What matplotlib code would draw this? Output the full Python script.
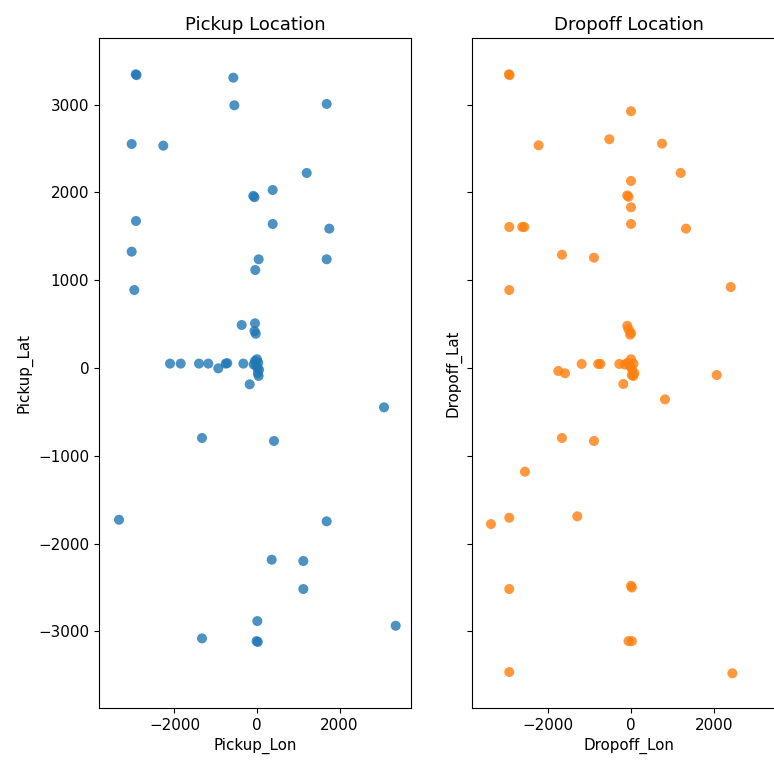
import matplotlib
matplotlib.use("Agg")
import matplotlib.pyplot as plt

# Pickup points
pickup_lon = [-2940, -2920, -574, -549, 1689, -3038, -2271, 1205, 380, -90, -60,
              -2933, 380, 1753, -3038, 41, 1689, -41, -2974, -371, -48, -60, -30,
              -2109, -1850, -1406, -1180, -938, -760, -720, -331,
              -80, -50, 0, 30, -20, 10, 50, 20, 40, -177,
              3079, -1333, 412, -3345, 1689, 356, 1123, 1123, 8, 3362, -1333, -10, 20]
pickup_lat = [3345, 3335, 3306, 2992, 3007, 2551, 2532, 2221, 2027, 1960, 1945,
              1674, 1640, 1587, 1325, 1238, 1238, 1116, 888, 490, 509, 420, 390,
              50, 50, 50, 50, -4, 50, 55, 50,
              40, 80, 100, 60, 30, 0, -20, -60, -91, -186,
              -448, -797, -831, -1728, -1746, -2183, -2198, -2517, -2882, -2935, -3079, -3110, -3120]

# Dropoff points
dropoff_lon = [-2940, -2925, 0, -522, -2225, 747, 1197, 0, -90, -60, 0, 0,
               -2932, -2620, -2570, 1325, -1663, -892, -2932, 2402,
               -90, -60, 0, -20,
               -1751, -1590, -1188, -790, -740, -281,
               -150, -80, -20, 0, 30, 60, 80, 20, -185, 56, 2064,
               819, -1663, -892, -2554, -2932, -3373, -1294, -2932, 0, 20,
               -60, 20, -2932, 2441]
dropoff_lat = [3345, 3335, 2924, 2605, 2536, 2555, 2221, 2130, 1965, 1950, 1830, 1640,
               1606, 1606, 1606, 1587, 1290, 1256, 888, 922,
               480, 440, 400, 380,
               -34, -60, 46, 46, 46, 46,
               40, 60, 20, 100, -20, 50, -60, -80, -182, -91, -80,
               -357, -797, -831, -1181, -1705, -1777, -1689, -2517, -2480, -2500,
               -3110, -3110, -3462, -3477]

plt.rcParams["font.size"] = 10.9

fig = plt.figure(figsize=(7.74, 7.6), dpi=100)
ax1 = fig.add_axes([0.1279, 0.0684, 0.4031, 0.8816])
ax2 = fig.add_axes([0.6098, 0.0684, 0.4057, 0.8816], sharey=ax1)

ax1.scatter(pickup_lon, pickup_lat, s=52, color="tab:blue", alpha=0.8, edgecolors="none")
ax1.set_title("Pickup Location", fontsize=13.1)
ax1.set_xlabel("Pickup_Lon")
ax1.set_ylabel("Pickup_Lat")

ax2.scatter(dropoff_lon, dropoff_lat, s=52, color="tab:orange", alpha=0.8, edgecolors="none")
ax2.set_title("Dropoff Location", fontsize=13.1)
ax2.set_xlabel("Dropoff_Lon")
ax2.set_ylabel("Dropoff_Lat")
ax2.tick_params(labelleft=False)
# the original picture is cropped before the right edge of this panel
ax2.spines["right"].set_visible(False)

for ax in (ax1, ax2):
    ax.set_xlim(-3830, 3733)
    ax.set_xticks([-2000, 0, 2000])
ax1.set_ylim(-3872, 3758)

fig.savefig("out.png", dpi=100)
